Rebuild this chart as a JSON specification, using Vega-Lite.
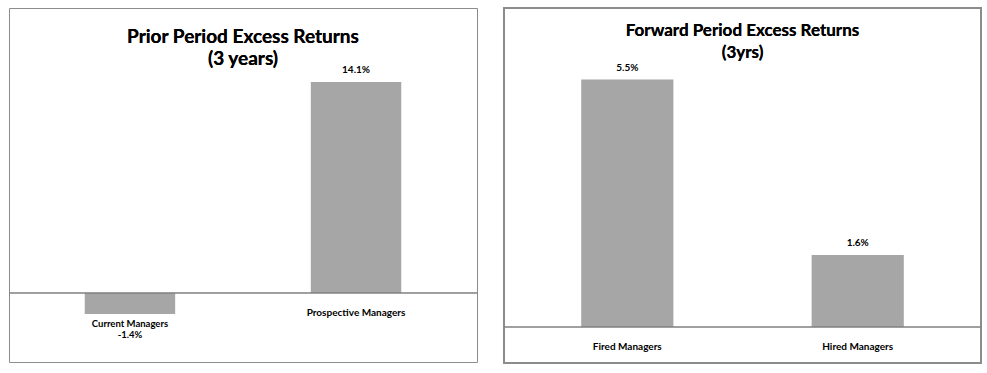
{
  "$schema": "https://vega.github.io/schema/vega-lite/v6.json",
  "padding": {"left": 8, "top": 7, "right": 0, "bottom": 0},
  "spacing": 24,
  "background": "white",
  "config": {"view": {"stroke": "#8c8c8c", "strokeWidth": 1}, "font": "Lato"},
  "hconcat": [
    {
      "width": 468,
      "height": 354,
      "data": {"values": [
        {"category": "Current Managers", "value": -1.4, "label": "-1.4%"},
        {"category": "Prospective Managers", "value": 14.1, "label": "14.1%"}
      ]},
      "layer": [
        {
          "mark": {"type": "bar", "color": "#a6a6a6"},
          "encoding": {
            "x": {"field": "category", "type": "nominal", "sort": null, "axis": null, "scale": {"paddingInner": 0.6, "paddingOuter": 0.335}},
            "y": {"field": "value", "type": "quantitative", "axis": null, "scale": {"domain": [-4.61, 19.04], "nice": false, "zero": false}}
          }
        },
        {
          "mark": {"type": "rule", "color": "#808080", "strokeWidth": 1},
          "encoding": {"y": {"datum": 0, "type": "quantitative"}}
        },
        {
          "mark": {"type": "text", "text": ["Prior Period Excess Returns", "(3 years)"], "font": "Lato", "fontSize": 19, "fontWeight": "bold", "color": "#000000", "baseline": "alphabetic", "align": "center", "lineHeight": 22},
          "encoding": {"y": {"datum": 16.7, "type": "quantitative"}}
        },
        {
          "transform": [{"filter": "datum.value >= 0"}],
          "mark": {"type": "text", "dy": -12, "fontSize": 10, "fontWeight": "bold", "color": "#000000", "baseline": "middle"},
          "encoding": {
            "x": {"field": "category", "type": "nominal", "sort": null},
            "y": {"field": "value", "type": "quantitative"},
            "text": {"field": "label"}
          }
        },
        {
          "transform": [{"filter": "datum.value >= 0"}],
          "mark": {"type": "text", "dy": 20, "fontSize": 10, "fontWeight": "bold", "color": "#000000", "baseline": "middle"},
          "encoding": {
            "x": {"field": "category", "type": "nominal", "sort": null},
            "y": {"datum": 0, "type": "quantitative"},
            "text": {"field": "category"}
          }
        },
        {
          "transform": [{"filter": "datum.value < 0"}],
          "mark": {"type": "text", "dy": 10, "fontSize": 9.5, "fontWeight": "bold", "color": "#000000", "baseline": "middle"},
          "encoding": {
            "x": {"field": "category", "type": "nominal", "sort": null},
            "y": {"field": "value", "type": "quantitative"},
            "text": {"field": "category"}
          }
        },
        {
          "transform": [{"filter": "datum.value < 0"}],
          "mark": {"type": "text", "dy": 21, "fontSize": 9.5, "fontWeight": "bold", "color": "#000000", "baseline": "middle"},
          "encoding": {
            "x": {"field": "category", "type": "nominal", "sort": null},
            "y": {"field": "value", "type": "quantitative"},
            "text": {"field": "label"}
          }
        }
      ]
    },
    {
      "width": 477,
      "height": 355,
      "view": {"stroke": "#8c8c8c", "strokeWidth": 2},
      "data": {"values": [
        {"category": "Fired Managers", "value": 5.5, "label": "5.5%"},
        {"category": "Hired Managers", "value": 1.6, "label": "1.6%"}
      ]},
      "layer": [
        {
          "mark": {"type": "bar", "color": "#a6a6a6"},
          "encoding": {
            "x": {"field": "category", "type": "nominal", "sort": null, "axis": null, "scale": {"paddingInner": 0.6, "paddingOuter": 0.335}},
            "y": {"field": "value", "type": "quantitative", "axis": null, "scale": {"domain": [-0.8, 7.089], "nice": false, "zero": false}}
          }
        },
        {
          "mark": {"type": "rule", "color": "#808080", "strokeWidth": 1},
          "encoding": {"y": {"datum": 0, "type": "quantitative"}}
        },
        {
          "mark": {"type": "text", "text": ["Forward Period Excess Returns", "(3yrs)"], "font": "Lato", "fontSize": 17, "fontWeight": "bold", "color": "#000000", "baseline": "alphabetic", "align": "center", "lineHeight": 22},
          "encoding": {"y": {"datum": 6.467, "type": "quantitative"}}
        },
        {
          "mark": {"type": "text", "dy": -12, "fontSize": 10, "fontWeight": "bold", "color": "#000000", "baseline": "middle"},
          "encoding": {
            "x": {"field": "category", "type": "nominal", "sort": null},
            "y": {"field": "value", "type": "quantitative"},
            "text": {"field": "label"}
          }
        },
        {
          "mark": {"type": "text", "dy": 20, "fontSize": 10, "fontWeight": "bold", "color": "#000000", "baseline": "middle"},
          "encoding": {
            "x": {"field": "category", "type": "nominal", "sort": null},
            "y": {"datum": 0, "type": "quantitative"},
            "text": {"field": "category"}
          }
        }
      ]
    }
  ]
}
